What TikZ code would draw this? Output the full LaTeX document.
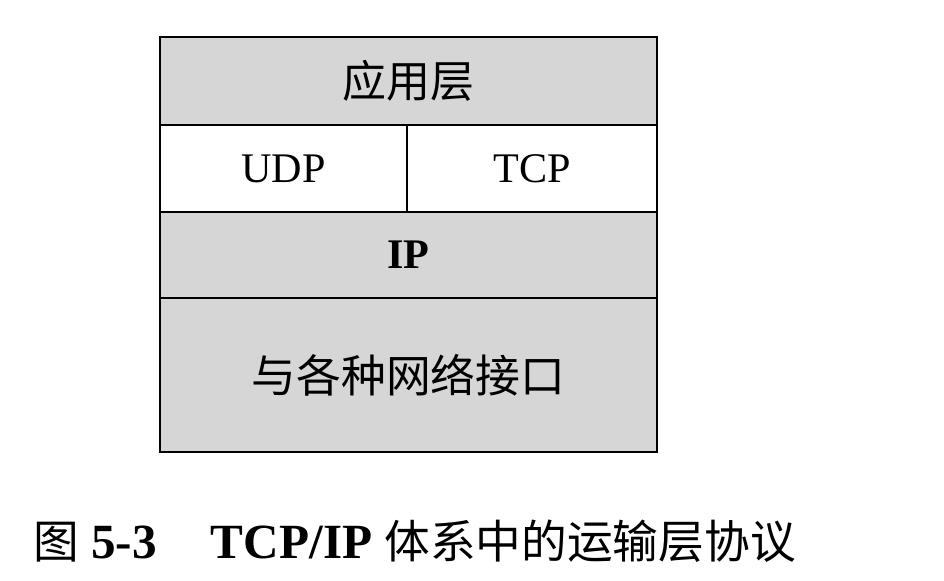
\documentclass[tikz,border=0pt]{standalone}
\usepackage{fontspec}
\setmainfont{Liberation Serif}
\newfontfamily\cjk{Noto Sans CJK SC}
\usepackage{tikz}

\newcommand{\capcjk}[1]{{\cjk\fontsize{26}{30}\selectfont #1}}

\begin{document}
\begin{tikzpicture}[x=0.02cm,y=-0.02cm,
        layer/.style={draw, line width=1.3pt, fill=black!16, anchor=north west,
                        inner sep=0pt, outer sep=0pt, minimum width=9.94cm,
                        font=\fontsize{24}{28}\selectfont},
        half/.style={layer, fill=white, minimum height=1.74cm}]
    \useasboundingbox (0,0) rectangle (944,581);
    \node[layer, minimum height=1.76cm] (app) at (160,37) {\cjk\fontsize{25}{28}\selectfont 应用层};
    \node[half, minimum width=4.94cm] (udp) at (160,125) {UDP};
    \node[half, minimum width=5.0cm] (tcp) at (407,125) {TCP};
    \node[layer, minimum height=1.72cm] (ip) at (160,212) {\textbf{IP}};
    \node[layer, minimum height=3.08cm] (net) at (160,298) {\cjk\fontsize{25.5}{28}\selectfont 与各种网络接口};
    % caption
    \node[anchor=west, inner sep=0pt, font=\fontsize{28}{32}\selectfont]
        (cap) at (33,541) {\capcjk{图} \textbf{5-3}\hspace{1.1em}\textbf{TCP/IP} \capcjk{体系中的运输层协议}};
\end{tikzpicture}
\end{document}
